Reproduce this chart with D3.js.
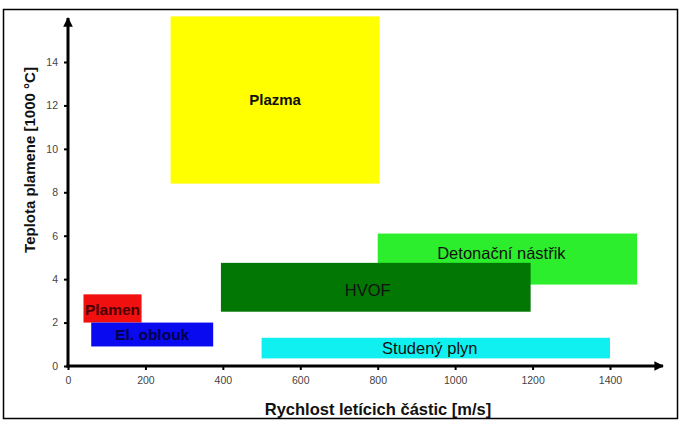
<!DOCTYPE html>
<html>
<head>
<meta charset="utf-8">
<script src="https://cdn.jsdelivr.net/npm/d3@7"></script>
<style>
    body { margin: 0; background: #fff; }
    svg { display: block; font-family: Arial, "Liberation Sans", sans-serif; }
</style>
</head>
<body>
<div id="chart"></div>
<script>
// methods: x = particle speed [m/s], y = flame temperature [1000 °C]
const methods = ['Plazma', 'Detonační nástřik', 'HVOF', 'Plamen', 'El. oblouk', 'Studený plyn'];
const speedFrom = [265, 800, 395, 40, 60, 500];
const speedTo = [805, 1470, 1195, 190, 375, 1400];
const tempFrom = [8.4, 3.75, 2.5, 2.0, 0.9, 0.35];
const tempTo = [16.1, 6.1, 4.75, 3.3, 2.0, 1.3];
const colors = ['#ffff00', '#2cee2c', '#037703', '#f01010', '#0a0af0', '#10f0f0'];
const xTicks = [0, 200, 400, 600, 800, 1000, 1200, 1400];
const yTicks = [0, 2, 4, 6, 8, 10, 12, 14];

const width = 683, height = 423;

const svg = d3.select('#chart')
    .append('svg')
    .attr('width', width)
    .attr('height', height);

// outer frame
svg.append('rect')
    .attr('x', 3.5).attr('y', 9.5)
    .attr('width', 674).attr('height', 409)
    .attr('fill', 'none')
    .attr('stroke', '#000')
    .attr('stroke-width', 1.5);

const x = d3.scaleLinear().domain([0, 1400]).range([68, 610]);
const y = d3.scaleLinear().domain([0, 14]).range([366, 62]);

// boxes
svg.append('g')
    .selectAll('rect')
    .data(methods)
    .enter()
    .append('rect')
    .attr('x', (d, i) => x(speedFrom[i]))
    .attr('y', (d, i) => y(tempTo[i]))
    .attr('width', (d, i) => x(speedTo[i]) - x(speedFrom[i]))
    .attr('height', (d, i) => y(tempFrom[i]) - y(tempTo[i]))
    .attr('fill', (d, i) => colors[i]);

// labels, small nudges where the original text is not centred
const nudge = {
    'Detonační nástřik': [-6, -6],
    'HVOF': [-8, 3],
    'Studený plyn': [-6, 0],
    'Plamen': [0, 1]
};
const textColor = {
    'Plamen': '#4a0000',
    'El. oblouk': '#00004a'
};
const labelStyle = {
    'Plazma': ['15px', 'bold'],
    'Plamen': ['15.5px', 'bold'],
    'El. oblouk': ['15.5px', 'bold']
};

svg.append('g')
    .selectAll('text')
    .data(methods)
    .enter()
    .append('text')
    .attr('x', (d, i) => (x(speedFrom[i]) + x(speedTo[i])) / 2 + (nudge[d] ? nudge[d][0] : 0))
    .attr('y', (d, i) => (y(tempFrom[i]) + y(tempTo[i])) / 2 + (nudge[d] ? nudge[d][1] : 0))
    .attr('dy', '0.35em')
    .attr('text-anchor', 'middle')
    .attr('font-size', d => labelStyle[d] ? labelStyle[d][0] : '16.5px')
    .attr('font-weight', d => labelStyle[d] ? labelStyle[d][1] : 'normal')
    .attr('fill', d => textColor[d] || '#111')
    .text(d => d);

// arrow heads
const defs = svg.append('defs');
defs.append('marker')
    .attr('id', 'arrow')
    .attr('viewBox', '0 0 10 10')
    .attr('refX', 9).attr('refY', 5)
    .attr('markerWidth', 5).attr('markerHeight', 3.2)
    .attr('markerUnits', 'strokeWidth')
    .attr('orient', 'auto')
    .append('path')
    .attr('d', 'M0,0 L10,5 L0,10 Z')
    .attr('fill', '#000');

// axes
const xAxis = svg.append('g')
    .attr('transform', `translate(0,${y(0)})`)
    .call(d3.axisBottom(x).tickValues(xTicks).tickFormat(d3.format('d')).tickSize(4).tickPadding(7));
const yAxis = svg.append('g')
    .attr('transform', `translate(${x(0)},0)`)
    .call(d3.axisLeft(y).tickValues(yTicks).tickFormat(d3.format('d')).tickSize(4).tickPadding(6));

[xAxis, yAxis].forEach(a => {
    a.select('.domain').remove();
    a.selectAll('line').attr('stroke', '#000').attr('stroke-width', 2);
    a.selectAll('text')
        .attr('font-family', 'Arial, "Liberation Sans", sans-serif')
        .attr('font-size', '10.5px')
        .attr('fill', '#444');
});

svg.append('line')
    .attr('x1', x(0) - 1.5).attr('y1', y(0))
    .attr('x2', 663).attr('y2', y(0))
    .attr('stroke', '#000').attr('stroke-width', 3)
    .attr('marker-end', 'url(#arrow)');
svg.append('line')
    .attr('x1', x(0)).attr('y1', y(0) + 1.5)
    .attr('x2', x(0)).attr('y2', 18)
    .attr('stroke', '#000').attr('stroke-width', 3)
    .attr('marker-end', 'url(#arrow)');

// axis titles
svg.append('text')
    .attr('x', 378).attr('y', 415)
    .attr('text-anchor', 'middle')
    .attr('font-size', '16.5px')
    .attr('font-weight', 'bold')
    .attr('fill', '#111')
    .text('Rychlost letícich částic [m/s]');

svg.append('text')
    .attr('transform', 'translate(35,160) rotate(-90)')
    .attr('text-anchor', 'middle')
    .attr('font-size', '15px')
    .attr('font-weight', 'bold')
    .attr('fill', '#111')
    .text('Teplota plamene [1000 °C]');
</script>
</body>
</html>
